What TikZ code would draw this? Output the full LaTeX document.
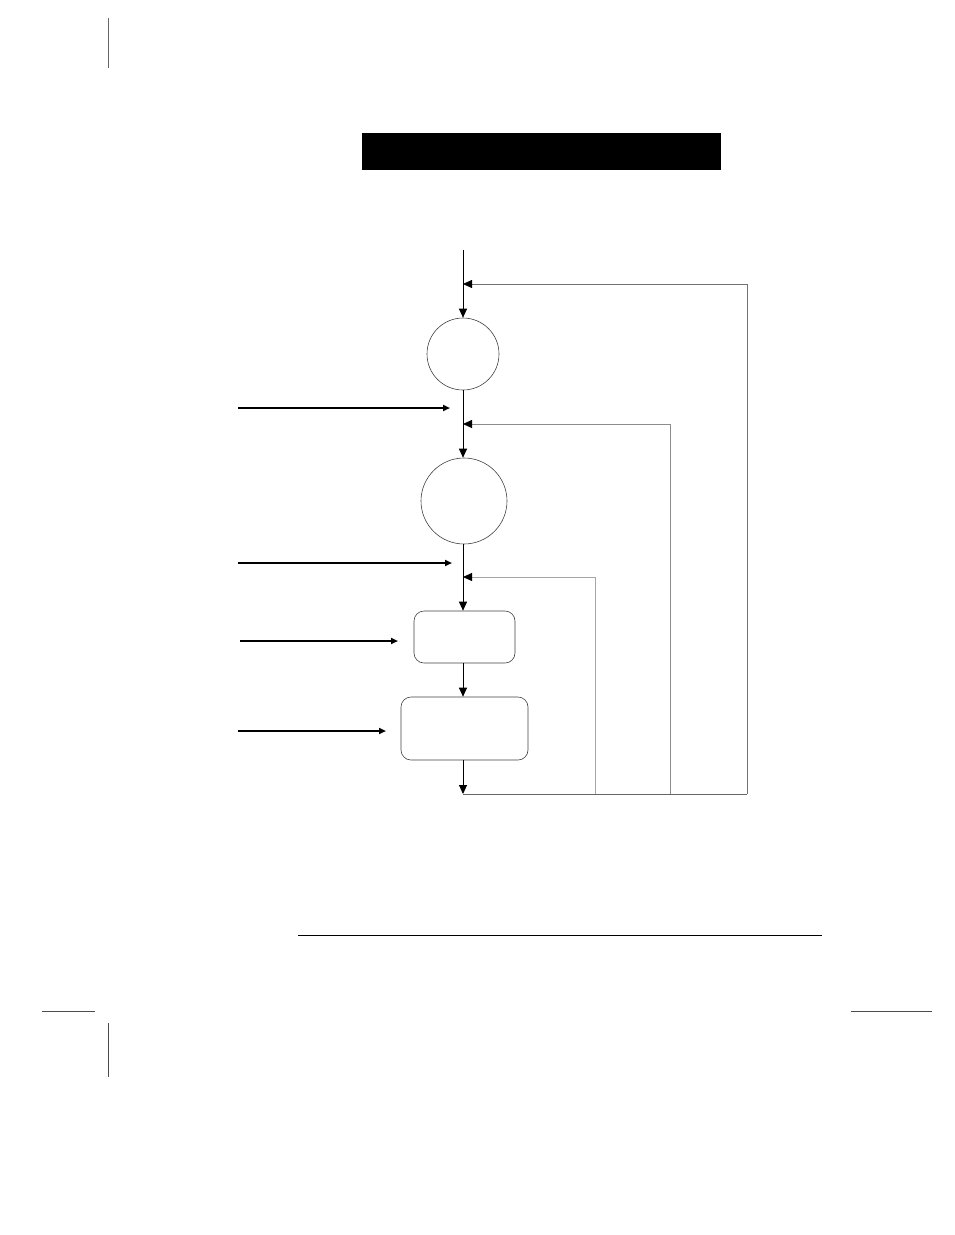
\documentclass[tikz,border=0pt]{standalone}
\usetikzlibrary{arrows.meta}
\begin{document}
\begin{tikzpicture}[x=1pt,y=-1pt,
  mainln/.style={draw=black,line width=0.9pt},
  fbln/.style={line width=0.8pt},
  thickarr/.style={draw=black,line width=2.6pt,-{Triangle[length=7pt,width=6pt]}},
  tipdown/.style={-{Triangle[length=9pt,width=8pt,color=black]}},
  circ/.style={draw=black!75,line width=0.6pt,circle,inner sep=0pt},
  rbox/.style={draw=black!75,line width=0.6pt,rectangle,rounded corners=10pt,inner sep=0pt}
]
\useasboundingbox (0,0) rectangle (954,1235);
% crop marks and rule
\draw[black!60,line width=0.6pt] (108,18) -- (108,68);
\draw[black,line width=0.6pt] (298,935) -- (822,935);
\draw[black!70,line width=0.6pt] (42,1011) -- (95,1011);
\draw[black!70,line width=0.6pt] (108,1023) -- (108,1077);
\draw[black!70,line width=0.6pt] (851,1011) -- (932,1011);
% title bar
\node[fill=black,minimum width=359pt,minimum height=37pt,inner sep=0pt] (bar) at (541.5,151.5) {};
% nodes
\node[circ,minimum size=72pt] (c1) at (463,354) {};
\node[circ,minimum size=86pt] (c2) at (464,501) {};
\node[rbox,minimum width=101pt,minimum height=52pt] (r1) at (464.5,637) {};
\node[rbox,minimum width=127pt,minimum height=63pt] (r2) at (464.5,728.5) {};
% coordinates
\coordinate (top) at (463,250);
\coordinate (j1) at (463,284);
\coordinate (j2) at (463,424);
\coordinate (j3) at (463,577);
\coordinate (bot) at (463,794);
\coordinate (k1) at (747,794);
\coordinate (k2) at (670,794);
\coordinate (k3) at (595,794);
\coordinate (u1) at (747,284);
\coordinate (u2) at (670,424);
\coordinate (u3) at (595,577);
\coordinate (a1s) at (238,408); \coordinate (a1e) at (450,408);
\coordinate (a2s) at (238,563); \coordinate (a2e) at (452,563);
\coordinate (a3s) at (240,641); \coordinate (a3e) at (398,641);
\coordinate (a4s) at (238,731); \coordinate (a4e) at (386,731);
% main flow
\draw[mainln,tipdown] (top) -- (c1.north -| top);
\draw[mainln,tipdown] (c1.south -| top) -- (c2.north -| top);
\draw[mainln,tipdown] (c2.south -| top) -- (r1.north -| top);
\draw[mainln,tipdown] (r1.south -| top) -- (r2.north -| top);
\draw[mainln,tipdown] (r2.south -| bot) -- (bot);
% feedback loops
\draw[fbln,black!60] (bot) -- (k1);
\draw[fbln,black!55,tipdown] (k1) -- (u1) -- (j1);
\draw[fbln,black!45,tipdown] (k2) -- (u2) -- (j2);
\draw[fbln,black!35,tipdown] (k3) -- (u3) -- (j3);
% thick input arrows
\draw[thickarr] (a1s) -- (a1e);
\draw[thickarr,line width=2.2pt] (a2s) -- (a2e);
\draw[thickarr] (a3s) -- (a3e);
\draw[thickarr,line width=2.2pt] (a4s) -- (a4e);
\end{tikzpicture}
\end{document}
